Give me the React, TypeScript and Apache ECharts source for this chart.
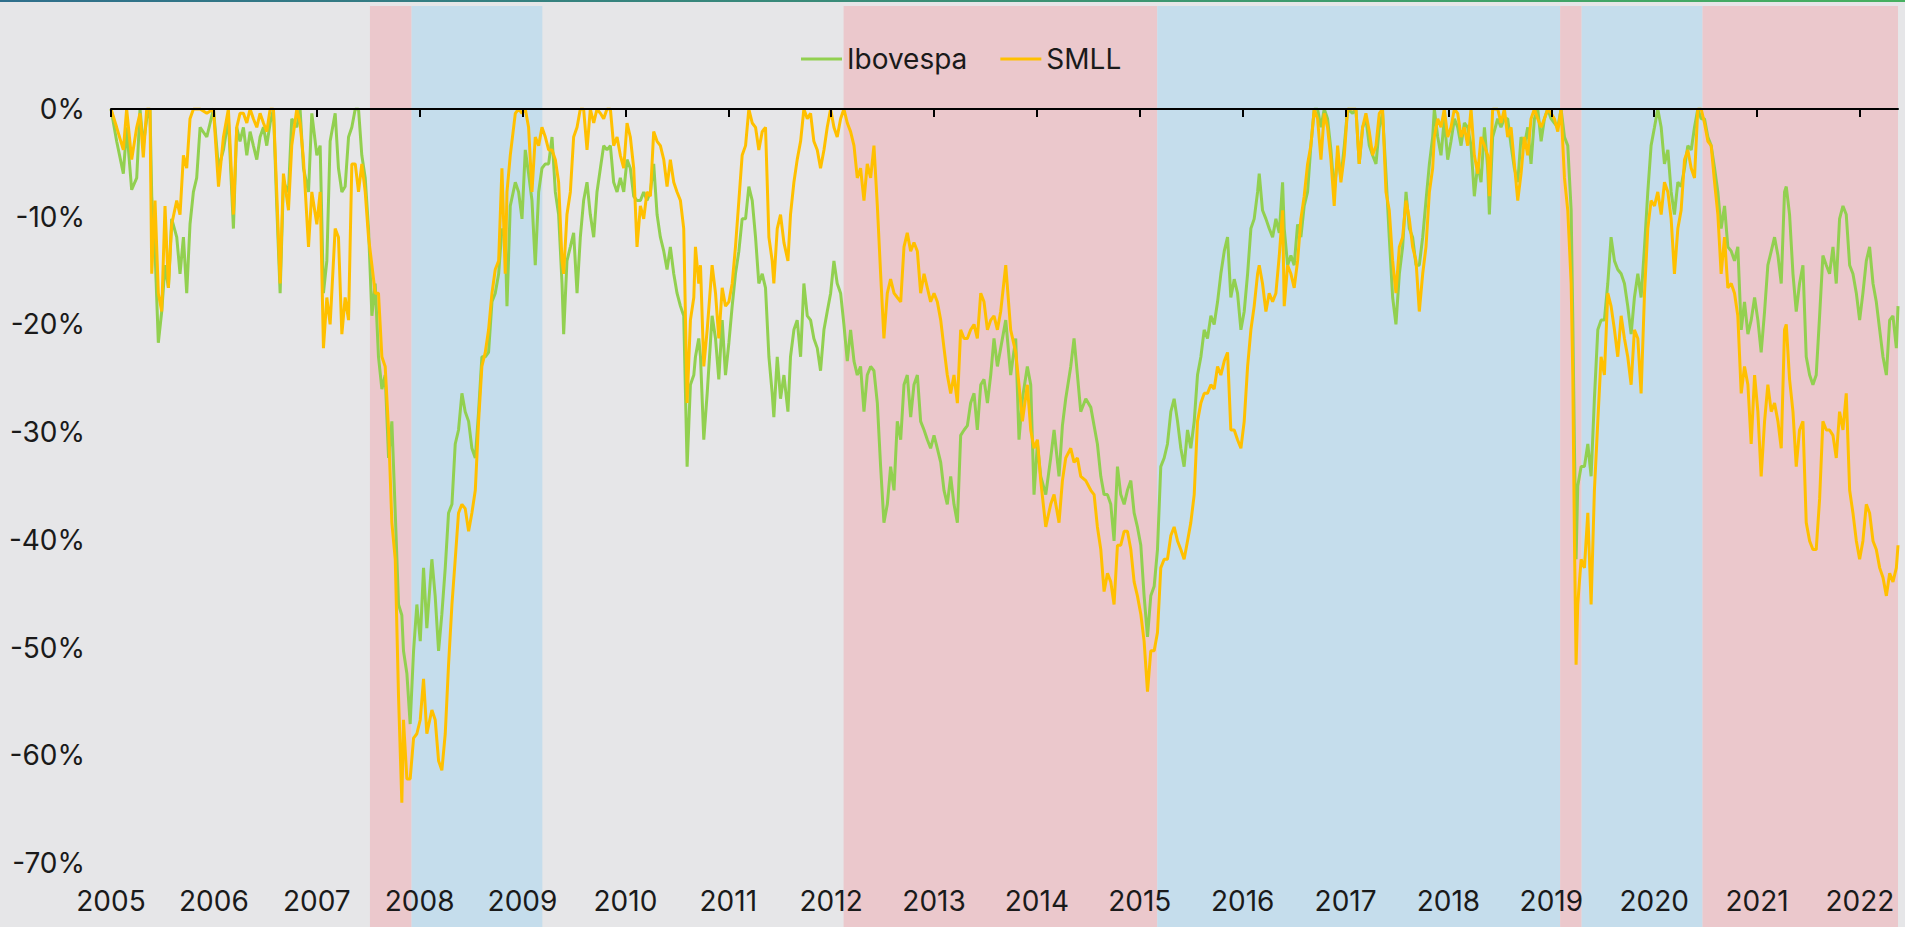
import React, { useEffect, useRef } from "react";
import * as echarts from "echarts";

// Time of each reading, in years since the start of 2005
const yearsSince2005 = [
  0.000, 0.055, 0.120, 0.152, 0.201, 0.250, 0.282, 0.314, 0.347, 0.379, 0.396, 0.428, 0.460, 0.493, 0.525, 0.558, 0.590, 0.639, 0.671, 0.704,
  0.736, 0.768, 0.801, 0.833, 0.866, 0.931, 0.996, 1.045, 1.093, 1.141, 1.190, 1.222, 1.254, 1.287, 1.320, 1.352, 1.384, 1.417, 1.449, 1.482, 1.514, 1.547, 1.579, 1.611, 1.644, 1.676, 1.725,
  1.757, 1.806, 1.838, 1.871, 1.920, 1.952, 2.001, 2.033, 2.065, 2.098, 2.130, 2.179, 2.211, 2.244, 2.276, 2.309, 2.341, 2.374, 2.406, 2.438,
  2.471, 2.503, 2.536, 2.568, 2.600, 2.633, 2.665, 2.698, 2.730, 2.763, 2.795,
  2.827, 2.843, 2.876, 2.908, 2.941, 2.973, 3.006, 3.038, 3.070, 3.119, 3.151, 3.184, 3.216, 3.249, 3.281, 3.314, 3.346, 3.378, 3.411, 3.443,
  3.476, 3.508, 3.541, 3.573, 3.605, 3.638, 3.670, 3.703, 3.735, 3.768, 3.800, 3.832, 3.849, 3.881, 3.930, 3.962, 3.995, 4.027, 4.059, 4.092,
  4.124, 4.157, 4.189, 4.222, 4.254, 4.287, 4.319, 4.351, 4.384, 4.400, 4.432, 4.465, 4.497, 4.530, 4.562, 4.594, 4.627, 4.659, 4.692, 4.724,
  4.757, 4.789, 4.821, 4.854, 4.886, 4.919, 4.951, 4.984, 5.016, 5.048, 5.081, 5.113, 5.146, 5.178, 5.210, 5.243, 5.275, 5.308, 5.340, 5.373,
  5.405, 5.437, 5.470, 5.502, 5.535, 5.567, 5.600, 5.632, 5.665, 5.681, 5.713,
  5.730, 5.762, 5.795, 5.843, 5.876, 5.908, 5.941, 5.973, 6.006, 6.038, 6.070, 6.103, 6.135, 6.168, 6.200, 6.233, 6.265, 6.297, 6.330, 6.362,
  6.395, 6.427, 6.443, 6.476, 6.508, 6.541, 6.580, 6.605, 6.638, 6.670, 6.703, 6.735, 6.768, 6.800, 6.832, 6.865, 6.897, 6.930, 6.962, 6.995,
  7.027, 7.059, 7.092, 7.124, 7.157, 7.189, 7.222, 7.254, 7.286, 7.319, 7.351, 7.384, 7.416, 7.449, 7.481, 7.513, 7.546, 7.578, 7.611, 7.643,
  7.676, 7.708, 7.740, 7.773, 7.805, 7.838, 7.870, 7.903, 7.935, 7.967, 8.000, 8.032, 8.065, 8.097, 8.129, 8.162, 8.194, 8.227, 8.259, 8.292,
  8.324, 8.356, 8.389, 8.421, 8.454, 8.486, 8.519, 8.551, 8.583, 8.616, 8.648,
  8.697, 8.745, 8.794, 8.826, 8.859, 8.907, 8.940, 8.972, 9.005, 9.037, 9.086, 9.134, 9.167, 9.215, 9.248, 9.280, 9.329, 9.361, 9.394, 9.426,
  9.475, 9.524, 9.556, 9.588, 9.621, 9.653, 9.686, 9.718, 9.750, 9.783, 9.815, 9.848, 9.880, 9.913, 9.945, 9.977, 10.010, 10.042, 10.075, 10.107,
  10.140, 10.172, 10.204, 10.237, 10.269, 10.302, 10.334, 10.367, 10.399, 10.431, 10.464, 10.496, 10.529, 10.561, 10.594, 10.626, 10.658, 10.691, 10.723, 10.756,
  10.788, 10.821, 10.853, 10.885, 10.918, 10.950, 10.983, 11.015, 11.048, 11.080, 11.112, 11.145, 11.161, 11.193, 11.226, 11.258, 11.291, 11.323, 11.356, 11.388,
  11.404, 11.437, 11.469, 11.501, 11.534,
  11.566, 11.598, 11.631, 11.663, 11.696, 11.728, 11.761, 11.793, 11.825, 11.858, 11.890, 11.923, 11.955, 11.988, 12.020, 12.069, 12.101, 12.133, 12.166, 12.198,
  12.231, 12.263, 12.296, 12.328, 12.360, 12.393, 12.425, 12.458, 12.490, 12.523, 12.555, 12.588, 12.620, 12.652, 12.685, 12.717, 12.750, 12.782, 12.815, 12.847,
  12.863, 12.896, 12.928, 12.960, 12.993, 13.025, 13.058, 13.090, 13.123, 13.155, 13.187, 13.220, 13.252, 13.285, 13.317, 13.350, 13.382, 13.398, 13.430, 13.479,
  13.511, 13.544, 13.576, 13.609, 13.641, 13.674, 13.706, 13.738, 13.771, 13.803, 13.836, 13.868, 13.901, 13.933, 13.965, 13.998, 14.030, 14.063, 14.095, 14.128,
  14.160, 14.193, 14.209, 14.225, 14.241, 14.257, 14.290, 14.322, 14.355, 14.387, 14.419, 14.452, 14.484,
  14.516, 14.549, 14.581, 14.614, 14.646, 14.679, 14.711, 14.743, 14.776, 14.808, 14.841, 14.873, 14.906, 14.938, 14.970, 15.003, 15.035, 15.068, 15.100, 15.133,
  15.165, 15.197, 15.230, 15.262, 15.295, 15.327, 15.360, 15.392, 15.424, 15.457, 15.489, 15.522, 15.554, 15.587, 15.619, 15.651, 15.684, 15.716, 15.749, 15.781,
  15.813, 15.846, 15.878, 15.911, 15.943, 15.976, 16.008, 16.040, 16.073, 16.105, 16.138, 16.170, 16.203, 16.235, 16.267, 16.284, 16.316, 16.349, 16.381, 16.413,
  16.446, 16.478, 16.511, 16.543, 16.575, 16.608, 16.640, 16.673, 16.705, 16.738, 16.770, 16.802, 16.835, 16.867, 16.900, 16.932, 16.965, 16.997, 17.029, 17.062,
  17.094, 17.127, 17.159, 17.192, 17.224, 17.257, 17.289, 17.321, 17.354, 17.370,
];

// Drawdown from previous peak, %
const ibovespa = [
  0, -3.0, -6.0, -1.7, -7.5, -6.4, 0, -3.4, -0.9, 0, -8.1, -13.2, -21.7, -18.8, -14.5, -16.6, -10.2, -11.9, -15.3, -11.9,
  -17.1, -10.7, -7.7, -6.4, -1.7, -2.6, 0, -5.5, -3.8, -0.9, -11.1, -1.7, -3.0, -1.7, -4.3, -2.1, -3.4, -4.7, -2.6, -1.7, -3.4, -1.3, 0, -9.0, -17.1, -6.8, -7.7,
  -0.9, -1.7, 0, -5.5, -7.7, -0.4, -4.3, -3.4, -17.1, -14.1, -3.0, -0.4, -5.5, -7.7, -7.2, -2.6, -1.7, 0, 0, -4.3,
  -6.4, -11.1, -19.2, -16.2, -23.0, -26.0, -24.7, -32.4, -29.0, -37.5, -46.0,
  -47.0, -50.3, -52.4, -57.1, -50.3, -46.0, -49.4, -42.6, -48.2, -41.8, -45.2, -50.3, -46.9, -42.6, -37.5, -36.7, -31.1, -29.8, -26.4, -28.1,
  -29.0, -31.5, -32.4, -28.1, -23.0, -23.0, -22.6, -17.9, -17.1, -15.3, -11.1, -11.9, -18.3, -9.0, -6.8, -7.7, -10.2, -3.8, -6.0, -8.5,
  -14.5, -7.7, -5.5, -5.1, -5.1, -2.6, -7.7, -9.8, -16.2, -20.9, -14.1, -12.8, -11.5, -17.1, -11.9, -8.5, -6.8, -9.8, -11.9, -7.7,
  -5.5, -3.4, -3.8, -3.4, -6.8, -7.7, -6.4, -7.7, -4.7, -5.5, -8.1, -8.5, -8.5, -7.7, -8.5, -7.7, -5.1, -9.8, -11.9, -13.2,
  -14.9, -12.8, -15.3, -17.1, -18.3, -19.2, -33.2, -25.6, -24.7, -23.0, -21.3,
  -23.0, -30.7, -26.4, -19.2, -21.3, -25.1, -19.6, -24.7, -21.7, -18.3, -15.3, -13.2, -10.2, -10.2, -7.2, -8.5, -11.9, -16.2, -15.3, -16.6,
  -23.0, -26.4, -28.6, -23.0, -26.9, -24.7, -28.1, -23.0, -20.5, -19.6, -23.0, -16.2, -19.2, -19.6, -21.3, -22.2, -24.3, -20.5, -18.8, -17.1,
  -14.1, -16.2, -17.1, -20.0, -23.4, -20.5, -23.4, -24.7, -23.9, -28.1, -24.7, -23.9, -24.3, -27.3, -33.2, -38.4, -36.7, -33.2, -35.4, -29.0,
  -30.7, -25.6, -24.7, -28.6, -25.6, -24.7, -29.0, -29.8, -30.7, -31.5, -30.3, -31.5, -32.8, -35.4, -36.7, -34.1, -36.7, -38.4, -30.3, -29.8,
  -29.4, -27.3, -26.4, -29.8, -25.6, -25.1, -27.3, -24.7, -21.3, -23.9, -22.2,
  -19.6, -24.7, -21.3, -30.7, -26.9, -23.9, -25.6, -35.8, -31.1, -34.1, -35.8, -32.4, -29.8, -34.1, -29.4, -26.9, -23.9, -21.3, -24.7, -28.1,
  -26.9, -27.7, -29.4, -31.1, -34.1, -35.8, -35.8, -36.7, -40.1, -33.2, -35.8, -36.7, -35.4, -34.5, -37.5, -38.8, -40.5, -45.2, -49.0, -45.2,
  -44.3, -40.9, -33.2, -32.4, -31.1, -28.1, -26.9, -29.0, -31.5, -33.2, -29.8, -31.5, -29.0, -24.7, -23.0, -20.5, -21.3, -19.2, -20.0, -17.9,
  -15.3, -13.2, -11.9, -17.5, -15.8, -17.1, -20.5, -18.8, -15.3, -11.1, -10.2, -7.7, -6.0, -9.4, -10.2, -11.1, -11.9, -10.2, -11.5, -6.8,
  -11.1, -14.5, -13.6, -14.5, -10.7,
  -11.9, -9.0, -7.7, -3.4, 0, 0, -1.7, 0, -0.9, -3.8, -7.7, -4.3, -6.4, -3.4, 0, -0.4, 0, -5.1, -1.7, -0.9,
  -3.4, -4.3, -5.1, -1.7, -0.4, -6.0, -11.9, -17.5, -20.0, -15.3, -12.8, -7.7, -11.1, -11.9, -14.5, -14.5, -11.9, -8.5, -5.1, -2.6,
  0, -2.6, -4.3, -0.9, -4.7, -3.0, -0.9, -1.7, -3.4, -1.3, -1.7, -3.4, -8.1, -5.1, -6.8, -1.7, -5.5, -9.8, -2.6, -0.9,
  -1.7, -0.9, -0.9, -3.4, -5.5, -6.8, -2.6, -3.4, -1.7, -5.1, -0.9, 0, -3.0, -0.9, 0, -0.9, -1.3, -1.7, 0, -2.6,
  -3.4, -9.4, -19.6, -31.5, -41.8, -35.0, -33.2, -33.2, -31.1, -34.1, -26.9, -20.5, -19.6,
  -19.6, -16.2, -11.9, -14.1, -14.9, -15.3, -16.2, -18.3, -20.9, -17.5, -15.3, -17.5, -12.8, -7.7, -3.4, -1.7, 0, -1.7, -5.1, -3.8,
  -7.7, -9.8, -6.8, -7.2, -5.5, -3.4, -3.8, -1.7, 0, -0.9, -0.9, -2.6, -3.4, -5.5, -7.7, -11.1, -9.0, -12.8, -13.2, -14.1,
  -12.8, -20.5, -17.9, -20.9, -19.6, -17.5, -19.6, -22.6, -18.8, -14.5, -13.2, -11.9, -13.6, -16.2, -7.7, -7.2, -9.8, -15.3, -18.8, -16.2,
  -14.5, -23.0, -24.7, -25.6, -24.7, -19.2, -13.6, -14.5, -15.3, -12.8, -16.2, -10.2, -9.0, -9.8, -14.5, -15.3, -17.1, -19.6, -17.1, -14.1,
  -12.8, -16.2, -17.9, -20.5, -23.0, -24.7, -19.6, -19.2, -22.2, -18.3,
];

const smll = [
  0, -1.7, -3.8, 0, -4.7, -1.7, -0.4, -4.5, 0, 0, -15.3, -8.5, -17.1, -18.8, -9.0, -16.6, -10.7, -8.5, -9.8, -4.3,
  -5.5, -0.9, 0, 0, 0, -0.4, 0, -7.2, -2.6, 0, -9.8, -1.7, -0.4, -0.4, -1.3, 0, -0.9, -1.7, -0.4, -1.3, -2.1, 0, 0, -7.7, -16.2, -6.0, -9.4,
  -3.4, 0, -1.3, -4.7, -12.8, -7.7, -10.7, -7.7, -22.2, -17.5, -20.0, -11.1, -11.9, -20.9, -17.5, -19.6, -5.1, -5.1, -7.7, -5.1,
  -7.7, -11.9, -14.5, -17.1, -17.1, -23.0, -23.9, -29.8, -38.4, -41.8, -54.6,
  -64.4, -56.7, -62.2, -62.2, -58.4, -58.0, -56.7, -52.9, -58.0, -55.8, -56.7, -60.5, -61.4, -58.0, -51.6, -46.0, -41.8, -37.5, -36.7, -37.1,
  -39.2, -37.5, -35.4, -29.0, -23.9, -22.6, -20.5, -17.1, -14.9, -14.1, -5.5, -15.3, -7.7, -4.3, -0.4, 0, -0.4, 0, -1.7, -7.7,
  -2.6, -3.4, -1.7, -2.6, -3.8, -3.8, -4.7, -6.8, -14.1, -15.3, -9.8, -7.7, -2.6, -1.7, 0, 0, -3.8, 0, -1.3, 0,
  -0.4, -0.9, 0, 0, -3.4, -2.6, -4.3, -5.5, -1.3, -2.6, -5.5, -12.8, -9.0, -10.2, -7.7, -8.1, -2.1, -3.0, -3.4, -4.7,
  -7.2, -4.7, -6.8, -7.7, -8.5, -11.1, -27.3, -19.6, -17.5, -12.8, -16.2,
  -14.5, -23.9, -20.5, -14.5, -17.1, -21.3, -16.6, -18.3, -17.9, -16.2, -12.8, -8.5, -4.3, -3.4, 0, -1.3, -1.7, -3.8, -2.1, -1.7,
  -11.9, -14.1, -16.2, -11.1, -9.8, -12.4, -14.1, -9.8, -6.8, -4.7, -3.0, 0, -0.9, -0.4, -3.0, -3.8, -5.5, -3.8, -1.7, 0,
  -1.7, -2.6, -0.9, 0, -1.3, -2.1, -3.4, -6.4, -5.5, -8.5, -5.1, -6.4, -3.4, -9.0, -15.3, -21.3, -17.1, -15.8, -17.1, -17.5,
  -17.9, -12.8, -11.5, -13.2, -12.4, -13.2, -17.1, -15.3, -16.6, -17.9, -17.1, -17.9, -19.6, -22.2, -24.7, -26.4, -24.7, -27.3, -20.5, -21.3,
  -21.3, -20.5, -20.0, -21.3, -17.1, -17.9, -20.5, -19.6, -19.2, -20.5, -18.8,
  -14.5, -20.5, -22.6, -25.6, -29.0, -25.6, -29.8, -31.5, -30.7, -34.5, -38.8, -36.7, -35.8, -38.4, -34.5, -32.4, -31.5, -32.8, -32.4, -34.1,
  -34.5, -35.4, -35.8, -38.8, -40.9, -44.8, -43.1, -43.9, -46.0, -40.5, -40.5, -39.2, -39.2, -40.9, -43.9, -45.2, -46.9, -49.4, -54.1, -50.3,
  -50.3, -48.6, -42.6, -41.8, -41.8, -39.6, -38.8, -40.1, -40.9, -41.8, -40.1, -38.4, -35.8, -29.0, -27.3, -26.4, -26.4, -25.6, -26.0, -23.9,
  -24.7, -23.4, -22.6, -29.8, -29.8, -30.7, -31.5, -29.0, -23.9, -20.5, -18.3, -15.3, -14.5, -16.2, -18.8, -17.1, -17.9, -17.1, -13.6, -9.4,
  -18.3, -14.5, -15.3, -16.6, -14.1,
  -10.2, -8.1, -5.1, -3.4, 0, -0.9, -4.7, -0.4, -1.7, -4.7, -9.0, -3.4, -6.8, -4.3, 0, 0, 0, -5.1, -1.7, -0.4,
  -2.1, -4.3, -3.4, -0.4, 0, -7.7, -9.4, -14.1, -17.1, -12.8, -11.9, -8.5, -10.2, -12.8, -14.1, -18.8, -15.3, -12.8, -7.7, -5.5,
  -2.6, -0.9, -1.7, 0, -2.6, -1.7, 0, -0.4, -2.6, -1.7, -3.4, 0, -4.3, -6.0, -2.6, -3.4, -4.3, -8.1, 0, 0,
  -1.3, 0, -2.6, -1.7, -5.1, -8.5, -6.0, -2.6, -4.3, -0.9, 0, -0.9, -1.7, -0.9, 0, -0.4, -0.9, -2.1, 0, -6.4,
  -9.4, -16.2, -24.7, -40.1, -51.6, -46.0, -41.8, -42.6, -37.5, -46.0, -35.4, -29.0, -23.0,
  -24.7, -17.1, -18.3, -20.5, -23.0, -19.2, -21.3, -23.0, -25.6, -20.5, -21.3, -26.4, -17.1, -11.1, -8.5, -9.0, -7.7, -9.8, -6.8, -7.7,
  -10.2, -15.3, -11.1, -9.4, -4.7, -3.8, -5.5, -6.4, 0, 0, -1.3, -3.0, -3.4, -6.8, -9.8, -15.3, -11.9, -16.6, -16.2, -17.1,
  -19.2, -26.4, -23.9, -25.6, -31.1, -24.7, -28.1, -34.1, -29.0, -25.6, -28.1, -27.3, -29.0, -31.5, -20.5, -20.0, -25.1, -28.1, -33.2, -29.8,
  -29.0, -38.4, -40.1, -40.9, -40.9, -36.2, -29.0, -29.8, -29.8, -30.3, -32.4, -28.1, -29.8, -26.4, -35.4, -37.5, -40.1, -41.8, -40.1, -36.7,
  -37.5, -40.1, -40.9, -42.6, -43.5, -45.2, -43.1, -43.9, -42.6, -40.5,
];

// Shaded market phases (decimal years): 1 = bear (pink), 0 = bull (blue)
const bandStarts = [2007.517, 2007.922, 2012.121, 2015.170, 2019.086, 2019.295, 2020.470];
const bandEnds = [2007.922, 2009.193, 2015.170, 2019.086, 2019.295, 2020.470, 2022.37];
const bandKinds = [1, 0, 1, 0, 1, 0, 1];

const yearTicks = [2005, 2006, 2007, 2008, 2009, 2010, 2011, 2012, 2013, 2014, 2015, 2016, 2017, 2018, 2019, 2020, 2021, 2022];
const yTicks = { min: -70, max: 0, step: 10 };
const seriesNames = ["Ibovespa", "SMLL"];

const X_MIN = 2005;
const X_MAX = 2022.37;
const FONT = 'Inter, "Noto Sans", "DejaVu Sans", sans-serif';
const TEXT = "#1a1a1a";

export default function App() {
  const ref = useRef<HTMLDivElement | null>(null);

  useEffect(() => {
    if (!ref.current) return;
    const chart = echarts.init(ref.current, undefined, { renderer: "svg" });
    const dates = yearsSince2005.map((o) => 2005 + o);
    const ibovData = dates.map((d, i) => [d, ibovespa[i]]);
    const smllData = dates.map((d, i) => [d, smll[i]]);
    const bandData = bandStarts.map((s, i) => [s, bandEnds[i], bandKinds[i]]);

    const option: any = {
      animation: false,
      backgroundColor: "#E6E6E8",
      textStyle: { fontFamily: FONT },
      graphic: [
        {
          type: "rect",
          left: 0,
          top: 0,
          z: 100,
          shape: { width: 1905, height: 2 },
          style: {
            fill: new echarts.graphic.LinearGradient(0, 0, 1, 0, [
              { offset: 0, color: "#2f6f8c" },
              { offset: 1, color: "#46b060" },
            ]),
          },
        },
      ],
      legend: {
        data: seriesNames,
        left: 796,
        top: 40,
        icon: "rect",
        itemWidth: 41,
        itemHeight: 3,
        itemGap: 33,
        textStyle: { fontSize: 28, color: TEXT, fontFamily: FONT },
      },
      grid: [
        { left: 111, right: 7, top: 109, bottom: 64, containLabel: false },
        { left: 111, right: 7, top: 6, bottom: 0, containLabel: false },
      ],
      xAxis: [
        {
          type: "value",
          gridIndex: 0,
          min: X_MIN,
          max: X_MAX,
          interval: 1,
          position: "bottom",
          axisLine: { show: true, onZero: true, lineStyle: { color: "#000", width: 2 } },
          axisTick: { show: true, length: 8, inside: false, customValues: yearTicks, lineStyle: { color: "#000", width: 2 } },
          axisLabel: { show: false },
          splitLine: { show: false },
          z: 5,
        },
        {
          type: "value",
          gridIndex: 0,
          min: X_MIN,
          max: X_MAX,
          interval: 1,
          position: "bottom",
          axisLine: { show: false, onZero: false },
          axisTick: { show: false },
          axisLabel: {
            show: true,
            margin: 24,
            fontSize: 28,
            color: TEXT,
            fontFamily: FONT,
            customValues: yearTicks,
            formatter: (v: number) => String(Math.round(v)),
          },
          splitLine: { show: false },
        },
        {
          type: "value",
          gridIndex: 1,
          min: X_MIN,
          max: X_MAX,
          show: false,
        },
      ],
      yAxis: [
        {
          type: "value",
          gridIndex: 0,
          min: yTicks.min,
          max: yTicks.max,
          interval: yTicks.step,
          axisLine: { show: false },
          axisTick: { show: false },
          splitLine: { show: false },
          axisLabel: {
            margin: 26,
            fontSize: 28,
            color: TEXT,
            fontFamily: FONT,
            formatter: (v: number) => `${v}%`,
          },
        },
        { type: "value", gridIndex: 1, min: 0, max: 1, show: false },
      ],
      series: [
        {
          type: "custom",
          name: "phases",
          xAxisIndex: 2,
          yAxisIndex: 1,
          z: 0,
          silent: true,
          data: bandData,
          encode: { x: [0, 1] },
          renderItem: (params: any, api: any) => {
            const a = api.coord([api.value(0), 1]);
            const b = api.coord([api.value(1), 0]);
            const kind = api.value(2);
            return {
              type: "rect",
              shape: { x: a[0], y: a[1], width: b[0] - a[0], height: b[1] - a[1] },
              style: { fill: kind === 1 ? "#EBC8CC" : "#C5DDEC" },
            };
          },
        },
        {
          type: "line",
          name: seriesNames[0],
          xAxisIndex: 0,
          yAxisIndex: 0,
          data: ibovData,
          showSymbol: false,
          symbol: "none",
          z: 3,
          lineStyle: { color: "#92D050", width: 3 },
          itemStyle: { color: "#92D050" },
        },
        {
          type: "line",
          name: seriesNames[1],
          xAxisIndex: 0,
          yAxisIndex: 0,
          data: smllData,
          showSymbol: false,
          symbol: "none",
          z: 4,
          lineStyle: { color: "#FFC000", width: 3 },
          itemStyle: { color: "#FFC000" },
        },
      ],
    };

    chart.setOption(option);
    return () => chart.dispose();
  }, []);

  return (
    <div
      ref={ref}
      style={{ position: "fixed", left: 0, top: 0, width: 1905, height: 927 }}
    />
  );
}
